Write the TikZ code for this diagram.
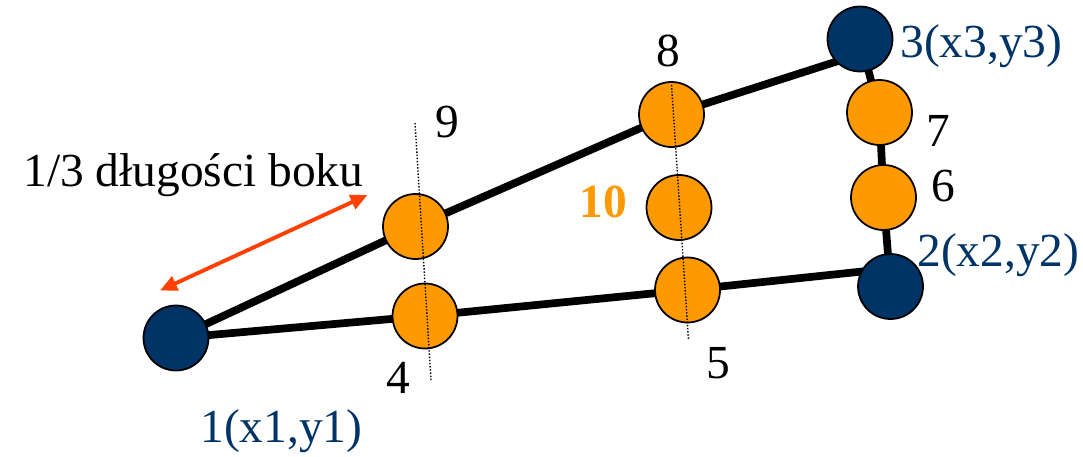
\documentclass[tikz,border=0pt]{standalone}
\usepackage{fontspec}
\setmainfont{Liberation Serif}
\usepackage{xcolor}
\usepackage{tikz}
\usetikzlibrary{arrows.meta, backgrounds}

\definecolor{navy}{RGB}{0,51,102}
\definecolor{amber}{RGB}{255,153,0}
\definecolor{redorange}{RGB}{255,64,0}

\begin{document}
\begin{tikzpicture}[
  vertex/.style={circle, draw=black, line width=1pt, fill=navy, minimum size=1.3cm, inner sep=0pt},
  point/.style={circle, draw=black, line width=1pt, fill=amber, minimum size=1.3cm, inner sep=0pt},
  edge/.style={line width=4.4pt},
  cutline/.style={densely dotted, line width=0.8pt},
  lbl/.style={inner sep=0pt, font=\fontsize{27}{30}\selectfont},
  arrow/.style={{Triangle[length=0.34cm, width=0.3cm]}-{Triangle[length=0.34cm, width=0.3cm]}, line width=2.2pt, redorange}
]
  \useasboundingbox (0,0) rectangle (21.66,9.12);
  \node[vertex] (P1) at (3.52,2.36) {};
  \node[vertex] (P2) at (17.81,3.39) {};
  \node[vertex] (P3) at (17.20,8.34) {};
  \node[point] (P4) at (8.50,2.80) {};
  \node[point] (P5) at (13.75,3.32) {};
  \node[point] (P6) at (17.67,5.17) {};
  \node[point] (P7) at (17.59,6.87) {};
  \node[point] (P8) at (13.43,6.83) {};
  \node[point] (P9) at (8.31,4.59) {};
  \node[point] (P10) at (13.58,4.97) {};
  \begin{scope}[on background layer]
    \draw[edge] (P1.center) -- (P9.center) -- (P8.center) -- ([yshift=-0.3cm]P3.center);
    \draw[edge] (P1.center) -- (P4.center) -- (P5.center) -- ([yshift=0.36cm]P2.center);
    \draw[edge] (P2.center) -- (P6.center) -- (P7.center) -- (P3.center);
  \end{scope}
  % dotted cuts
  \coordinate (C9) at (8.30,6.66);
  \coordinate (C4) at (8.62,1.52);
  \coordinate (C8) at (13.43,7.42);
  \coordinate (C5) at (13.77,2.32);
  \draw[cutline] (C9) -- (C4);
  \draw[cutline] (C8) -- (C5);
  % one third
  \coordinate (A1) at (7.35,5.22);
  \coordinate (A2) at (3.20,3.31);
  \draw[arrow] (A2) -- (A1);
  \node[lbl, anchor=base west] (third) at (0.46,5.38) {1/3 długości boku};
  % labels
  \node[lbl, anchor=base] (L9) at (8.94,6.36) {9};
  \node[lbl, anchor=base] (L4) at (7.96,1.26) {4};
  \node[lbl, anchor=base] (L8) at (13.36,7.78) {8};
  \node[lbl, anchor=base] (L7) at (18.76,6.18) {7};
  \node[lbl, anchor=base] (L6) at (18.86,5.08) {6};
  \node[lbl, anchor=base] (L5) at (14.36,1.56) {5};
  \node[lbl, anchor=base, text=amber, font=\fontsize{27}{30}\selectfont\bfseries] (L10) at (12.06,4.76) {10};
  \node[lbl, anchor=base west, text=navy] (L1) at (4.00,0.28) {1(x1,y1)};
  \node[lbl, anchor=base west, text=navy] (L2) at (18.34,3.78) {2(x2,y2)};
  \node[lbl, anchor=base west, text=navy] (L3) at (18.00,7.96) {3(x3,y3)};
\end{tikzpicture}
\end{document}
